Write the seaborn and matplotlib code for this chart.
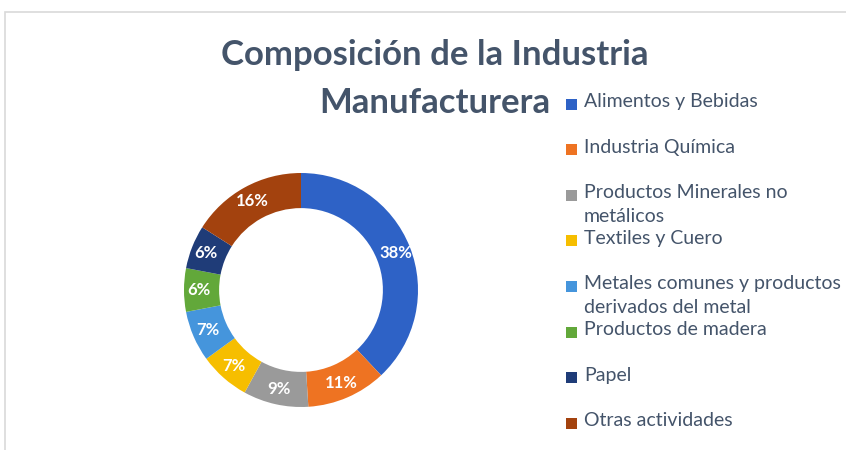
import matplotlib
matplotlib.use("Agg")
import matplotlib.pyplot as plt
from matplotlib.patches import Rectangle
import numpy as np
import seaborn as sns

categories = ["Alimentos y Bebidas", "Industria Química", "Productos Minerales no\nmetálicos",
              "Textiles y Cuero", "Metales comunes y productos\nderivados del metal",
              "Productos de madera", "Papel", "Otras actividades"]
values = [38, 11, 9, 7, 7, 6, 6, 16]
colors = ["#2E62C6", "#EE7322", "#9A9A9A", "#F6BE00", "#4595DC", "#62A83A", "#1F3C78", "#A3420E"]
title_lines = ["Composición de la Industria", "Manufacturera"]

sns.set_theme(style="white")
plt.rcParams['font.family'] = ['Lato', 'DejaVu Sans']

W, H = 846, 450
fig = plt.figure(figsize=(W / 100, H / 100), dpi=100)
fig.patch.set_facecolor("white")

# chart border
fig.patches.append(Rectangle((5 / W, -0.1), 1.2, (H - 12) / H + 0.1, transform=fig.transFigure,
                             fill=False, edgecolor="#D9D9D9", linewidth=1.2))

cx, cy, R = 301, 290, 117
half = 125
ax = fig.add_axes([(cx - half) / W, (H - cy - half) / H, 2 * half / W, 2 * half / H])
lim = half / R
pal = sns.color_palette(colors)
wedges, texts = ax.pie(values, colors=pal, startangle=90, counterclock=False,
                       radius=1.0, wedgeprops=dict(width=0.3, edgecolor="none"))
tot = sum(values)
ang = 90.0
for v, w in zip(values, wedges):
    mid = ang - v / tot * 360 / 2
    ang -= v / tot * 360
    r = 0.87
    ax.text(r * np.cos(np.radians(mid)), r * np.sin(np.radians(mid)), f"{v}%",
            ha="center", va="center", color="white", fontsize=12, fontweight="bold")
ax.set_xlim(-lim, lim)
ax.set_ylim(-lim, lim)
ax.set_aspect("equal")
ax.axis("off")

fig.text(435 / W, 1 - 55 / H, title_lines[0], ha="center", va="center", fontsize=25,
         fontweight="bold", color="#44546A")
fig.text(435 / W, 1 - 103 / H, title_lines[1], ha="center", va="center", fontsize=25,
         fontweight="bold", color="#44546A")

# legend
y0, dy = 104, 45.6
for i, (lab, col) in enumerate(zip(categories, colors)):
    y = y0 + i * dy
    fig.patches.append(Rectangle((566 / W, 1 - (y + 5.5) / H), 11 / W, 11 / H,
                                 transform=fig.transFigure, facecolor=col, edgecolor="none"))
    fig.text(584 / W, 1 - (y - 11) / H, lab, ha="left", va="top", fontsize=14,
             color="#44546A", linespacing=1.45)

fig.savefig("out.png", dpi=100, facecolor="white")
